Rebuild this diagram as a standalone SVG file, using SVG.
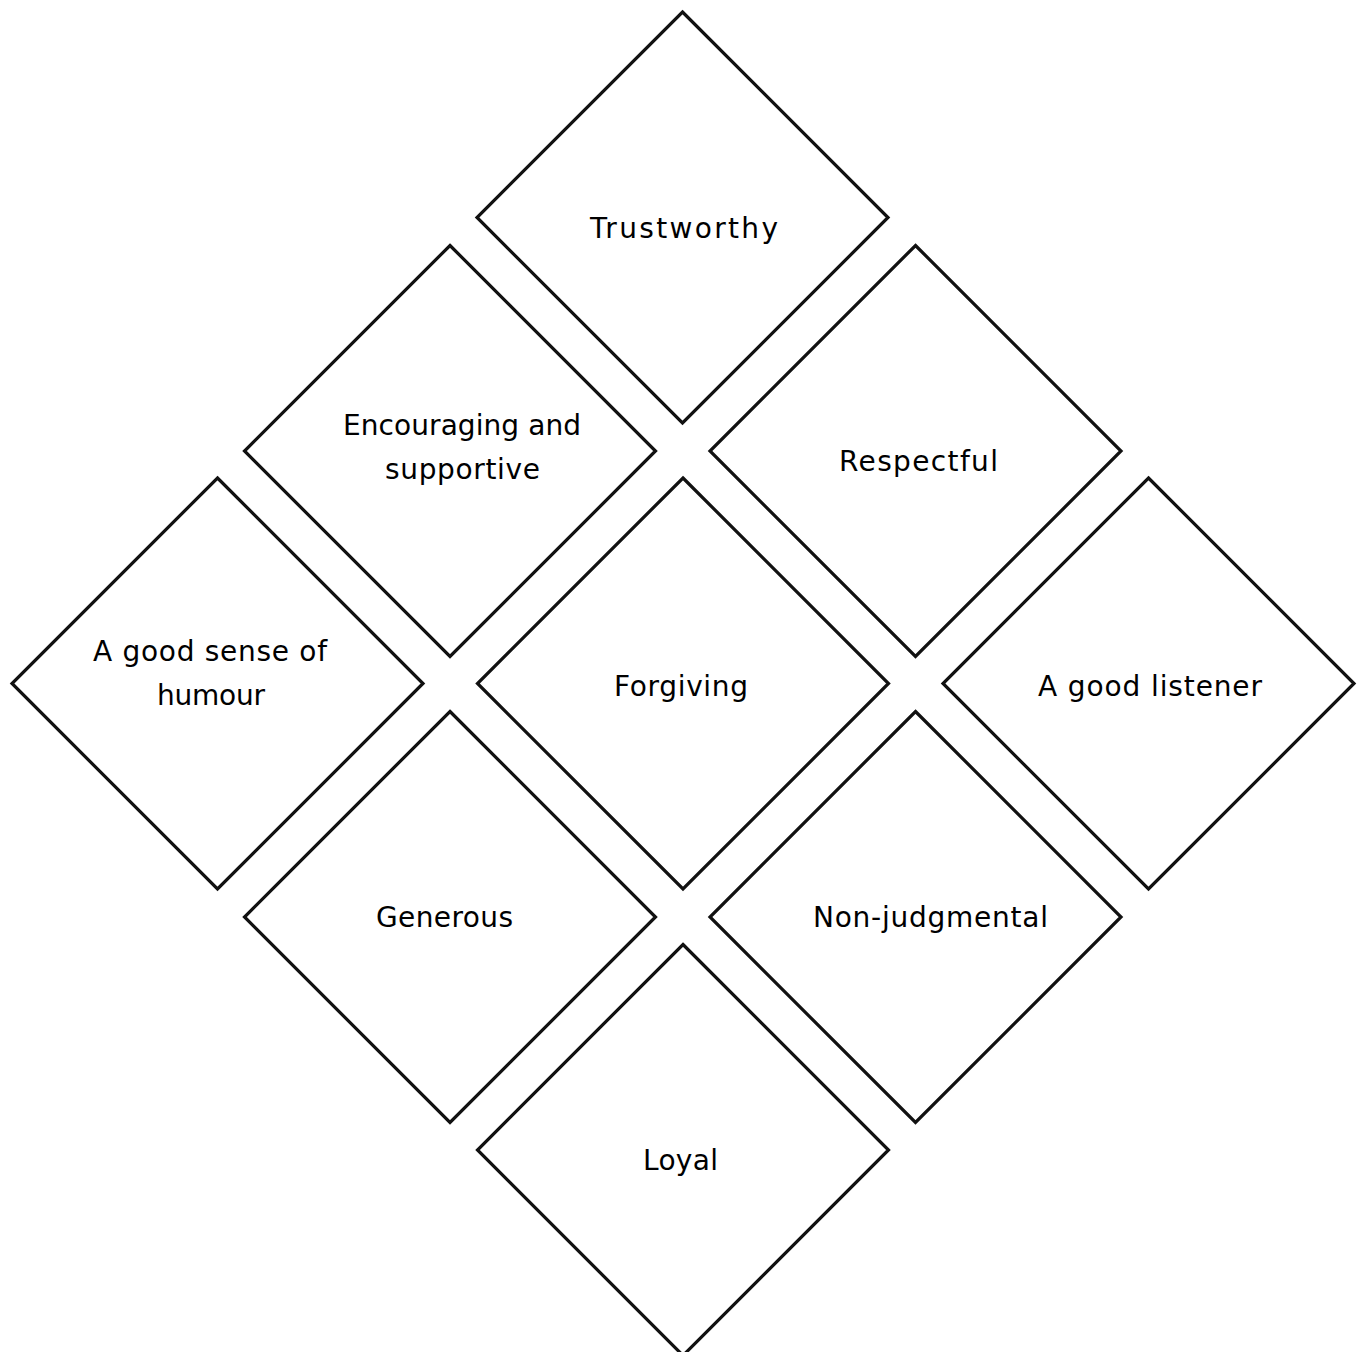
<svg xmlns="http://www.w3.org/2000/svg" width="1362" height="1352" viewBox="0 0 1362 1352">
<style>
.d{fill:#fff;stroke:#111;stroke-width:3.2;stroke-linejoin:miter}
.t{font-family:"DejaVu Sans","Open Sans",sans-serif;font-size:28px;fill:#000;text-anchor:middle}
</style>
<defs><path id="dm" d="M0,-205.5 L205.5,0 L0,205.5 L-205.5,0 Z"/></defs>
<rect width="1362" height="1352" fill="#fff"/>
<g id="connectors"/>
<g id="trustworthy"><use href="#dm" class="d" x="682.5" y="217.5"/><text class="t" x="684" y="238" textLength="188">Trustworthy</text></g>
<g id="encouraging"><use href="#dm" class="d" x="450" y="451"/><text class="t" x="462" y="435" textLength="238">Encouraging and</text><text class="t" x="462.5" y="479" textLength="155">supportive</text></g>
<g id="respectful"><use href="#dm" class="d" x="915.5" y="451"/><text class="t" x="918.5" y="471" textLength="159">Respectful</text></g>
<g id="humour"><use href="#dm" class="d" x="217.5" y="683.5"/><text class="t" x="210" y="661" textLength="234">A good sense of</text><text class="t" x="211" y="705" textLength="108">humour</text></g>
<g id="forgiving"><use href="#dm" class="d" x="683" y="683.5"/><text class="t" x="681" y="696" textLength="134">Forgiving</text></g>
<g id="listener"><use href="#dm" class="d" x="1148.5" y="683.5"/><text class="t" x="1150" y="696" textLength="224">A good listener</text></g>
<g id="generous"><use href="#dm" class="d" x="450" y="917"/><text class="t" x="444.5" y="927" textLength="137">Generous</text></g>
<g id="nonjudgmental"><use href="#dm" class="d" x="915.5" y="917"/><text class="t" x="930.5" y="927" textLength="235">Non-judgmental</text></g>
<g id="loyal"><use href="#dm" class="d" x="683" y="1150"/><text class="t" x="680.5" y="1170" textLength="75">Loyal</text></g>
</svg>
